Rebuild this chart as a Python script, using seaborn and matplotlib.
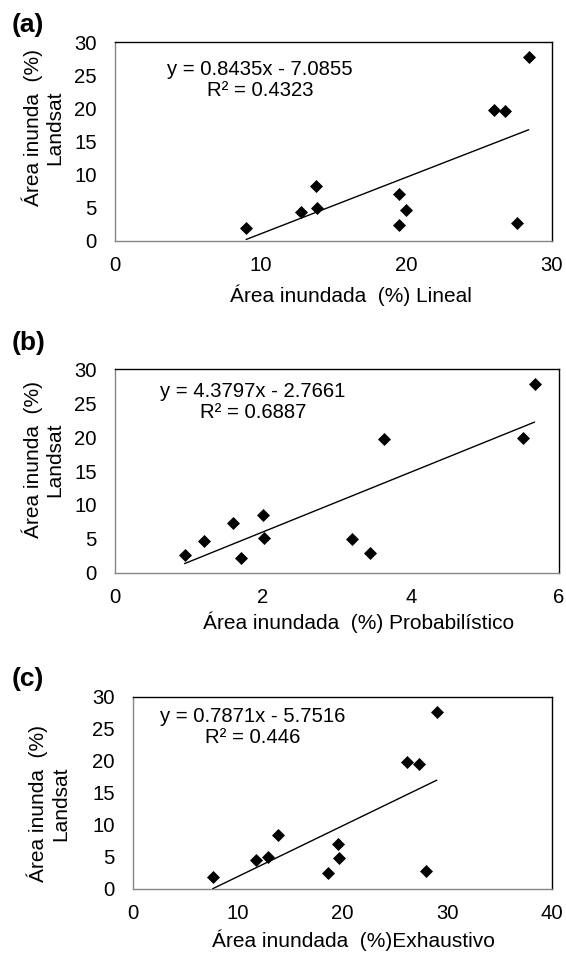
import matplotlib
matplotlib.use("Agg")
import matplotlib.pyplot as plt
import seaborn as sns

# Landsat flooded area vs. three interpolation methods
lineal_x = [9.0, 12.8, 13.8, 13.9, 19.5, 19.5, 20.0, 26.0, 26.8, 27.6, 28.4]
lineal_y = [1.9, 4.4, 8.3, 4.9, 7.1, 2.4, 4.7, 19.7, 19.6, 2.7, 27.7]

prob_x = [0.94, 1.2, 1.59, 1.70, 2.0, 2.01, 3.2, 3.45, 3.63, 5.52, 5.67]
prob_y = [2.7, 4.7, 7.3, 2.2, 8.5, 5.1, 5.0, 2.9, 19.7, 19.8, 27.8]

exh_x = [7.6, 11.7, 12.9, 13.8, 18.6, 19.6, 19.7, 26.2, 27.3, 28.0, 29.0]
exh_y = [1.9, 4.5, 5.0, 8.4, 2.5, 7.1, 4.8, 19.8, 19.6, 2.8, 27.7]

panel_tags = ["(a)", "(b)", "(c)"]
x_labels = ["Área inundada  (%) Lineal",
            "Área inundada  (%) Probabilístico",
            "Área inundada  (%)Exhaustivo"]
y_label = "Área inunda  (%)\nLandsat"
equations = ["y = 0.8435x - 7.0855\nR² = 0.4323",
             "y = 4.3797x - 2.7661\nR² = 0.6887",
             "y = 0.7871x - 5.7516\nR² = 0.446"]
x_ticks = [[0, 10, 20, 30], [0, 2, 4, 6], [0, 10, 20, 30, 40]]
y_ticks = [0, 5, 10, 15, 20, 25, 30]

sns.set_style("white")
plt.rcParams['font.family'] = ['Liberation Sans', 'DejaVu Sans']
plt.rcParams['text.color'] = 'black'
plt.rcParams['axes.labelcolor'] = 'black'

W, H = 566, 959
fig = plt.figure(figsize=(W / 100, H / 100), dpi=100)


def px_rect(l, t, r, b):
    return [l / W, 1 - b / H, (r - l) / W, (b - t) / H]


# axes boxes in pixels (left, top, right, bottom)
boxes = [(115, 42, 552, 241), (115, 369, 559, 573), (133, 697, 552, 889)]
# text anchors in pixels
tag_pos = [(12, 25), (12, 343), (12, 679)]
eq_pos = [(260, 80), (253, 402), (253, 727)]
xlab_pos = [(351, 295), (359, 622), (353, 940)]
ylab_pos = [(43, 128), (43, 460), (48, 804)]

data = [(lineal_x, lineal_y), (prob_x, prob_y), (exh_x, exh_y)]

for i, (xs, ys) in enumerate(data):
    ax = fig.add_axes(px_rect(*boxes[i]))
    sns.regplot(x=xs, y=ys, ax=ax, ci=None, marker='D', color='black',
                scatter_kws={'s': 44, 'linewidths': 0, 'alpha': 1, 'zorder': 3},
                line_kws={'lw': 1.0})
    ax.set_xlim(x_ticks[i][0], x_ticks[i][-1])
    ax.set_ylim(0, 30)
    ax.set_xticks(x_ticks[i])
    ax.set_yticks(y_ticks)
    ax.tick_params(axis='both', length=0, labelsize=14.6, colors='black')
    ax.tick_params(axis='x', pad=11)
    ax.tick_params(axis='y', pad=13)
    for side in ['top', 'right']:
        ax.spines[side].set_color('black')
        ax.spines[side].set_linewidth(1.0)
    for side in ['left', 'bottom']:
        ax.spines[side].set_color('#868686')
        ax.spines[side].set_linewidth(1.0)

    fig.text(eq_pos[i][0] / W, 1 - eq_pos[i][1] / H, equations[i],
             ha='center', va='center', multialignment='center',
             fontsize=14.6, linespacing=1.15)
    fig.text(xlab_pos[i][0] / W, 1 - xlab_pos[i][1] / H, x_labels[i],
             ha='center', va='center', fontsize=15)
    fig.text(ylab_pos[i][0] / W, 1 - ylab_pos[i][1] / H, y_label,
             ha='center', va='center', rotation=90, multialignment='center',
             fontsize=15, linespacing=1.2)
    fig.text(tag_pos[i][0] / W, 1 - tag_pos[i][1] / H, panel_tags[i],
             ha='left', va='center', fontsize=19, fontweight='bold')

fig.savefig("out.png", dpi=100, facecolor='white')
